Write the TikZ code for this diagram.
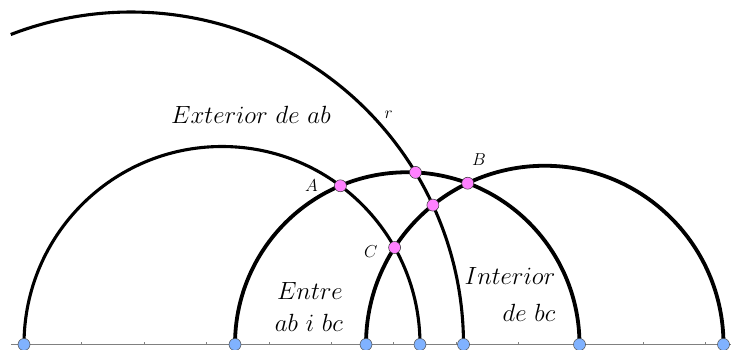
\documentclass[tikz,border=0pt]{standalone}
\usepackage{xcolor}
\definecolor{ptblue}{RGB}{128,178,255}
\definecolor{ptpink}{RGB}{255,128,255}
\definecolor{axisgray}{RGB}{128,128,128}
\usepackage{tikz}
\usetikzlibrary{positioning}

\begin{document}
\begin{tikzpicture}[x=1pt,y=1pt,
  arcline/.style={line width=3.8pt},
  thinarc/.style={line width=3.1pt},
  axisdot/.style={circle,draw=black!70,line width=0.5pt,fill=ptblue,minimum size=12pt,inner sep=0pt},
  cutdot/.style={circle,draw=black!80,line width=0.5pt,fill=ptpink,minimum size=12pt,inner sep=0pt},
  ptlabel/.style={font=\fontsize{19}{22}\selectfont,inner sep=0pt,anchor=base west},
  regionlabel/.style={inner sep=0pt}]
  \useasboundingbox (0,-4.5) rectangle (731,344.5);
  % Axis with ticks
  \coordinate (axl) at (11,0);
  \coordinate (axr) at (731,0);
  \draw[axisgray,line width=0.9pt] (axl) -- (axr);
  \foreach \x in {19.4,81.8,144.2,206.6,269,331.4,393.8,456.2,518.6,581,643.4,705.8}
    \draw[axisgray,line width=0.9pt] (\x,0) -- ++(0,2.5);
  % Feet of the arcs
  \foreach \n/\x in {f1/24,f2/235,f3/366,f4/420,f5/463.5,f6/579.5,f7/723.5}
    \coordinate (\n) at (\x,0);
  % Arcs
  \draw[thinarc] (f1) arc[start angle=180,end angle=0,radius=198];
  \draw[arcline] (f2) arc[start angle=180,end angle=0,radius=172.25];
  \draw[arcline] (f3) arc[start angle=180,end angle=0,radius=178.75];
  \draw[thinarc] (f5) arc[start angle=0,end angle=111.2,radius=332.5];
  % Points on the axis
  \foreach \n in {1,...,7}
    \node[axisdot] (d\n) at (f\n) {};
  % Crossing points
  \node[cutdot] (A) at (340.4,158.7) {};
  \node[cutdot] (B) at (467.7,161.3) {};
  \node[cutdot] (C) at (394.6,97.0) {};
  \node[cutdot] (rb) at (415.5,172.1) {};
  \node[cutdot] (rc) at (432.9,139.4) {};
  % Labels
  \node[ptlabel] (lA) at (305,152.8) {$A$};
  \node[ptlabel] (lB) at (472,178.8) {$B$};
  \node[ptlabel] (lC) at (364,86.8) {$C$};
  \node[ptlabel] (lr) at (384.5,226.2) {$r$};
  \node[regionlabel,anchor=base west,font=\fontsize{26}{30}\selectfont] (ext) at (171,221.2) {$Exterior\ de\ ab$};
  \node[regionlabel,anchor=south east,align=right,font=\fontsize{26}{32.4}\selectfont] (entre) at (343,12.8) {$Entre$\\$ab\ i\ bc$};
  \node[regionlabel,anchor=south east,align=right,font=\fontsize{26}{36.7}\selectfont] (inter) at (555.5,22.8) {$Interior$\\$de\ bc$};
\end{tikzpicture}
\end{document}
